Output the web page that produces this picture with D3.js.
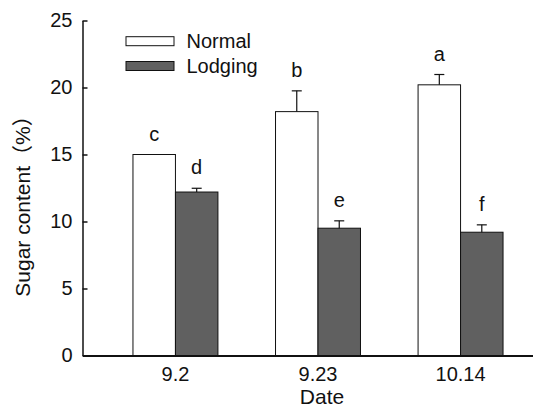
<!DOCTYPE html>
<html>
<head>
<meta charset="utf-8">
<script src="https://cdn.jsdelivr.net/npm/d3@7"></script>
<style>
  body { margin: 0; background: #fff; }
  svg { display: block; font-family: "Liberation Sans", Arial, "Noto Sans CJK SC", sans-serif; }
</style>
</head>
<body>
<div id="container"></div>
<script>
// Chart data
const dates = ["9.2", "9.23", "10.14"];
const seriesNames = ["Normal", "Lodging"];
const normalMeans = [15.0, 18.2, 20.2];
const normalErrors = [0, 1.55, 0.77];
const lodgingMeans = [12.2, 9.5, 9.2];
const lodgingErrors = [0.28, 0.55, 0.55];
const normalLetters = ["c", "b", "a"];
const lodgingLetters = ["d", "e", "f"];
const yTicks = [0, 5, 10, 15, 20, 25];

// Dimensions
const width = 533;
const height = 409;
const marginTop = 20.5;
const marginLeft = 82.5;
const marginBottom = 53.5;
const fills = ["#ffffff", "#606060"];

// Rows built from the arrays above
const rows = [];
dates.forEach((d, i) => {
  rows.push({ date: d, series: seriesNames[0], mean: normalMeans[i], err: normalErrors[i], letter: normalLetters[i] });
  rows.push({ date: d, series: seriesNames[1], mean: lodgingMeans[i], err: lodgingErrors[i], letter: lodgingLetters[i] });
});

// Scales
const x0 = d3.scaleBand()
    .domain(dates)
    .range([marginLeft, 553.5])
    .paddingInner(0.404)
    .paddingOuter(0.354);

const x1 = d3.scaleBand()
    .domain(seriesNames)
    .range([0, x0.bandwidth()]);

const y = d3.scaleLinear()
    .domain([0, 25])
    .range([height - marginBottom, marginTop]);

const color = d3.scaleOrdinal().domain(seriesNames).range(fills);

const svg = d3.select("#container")
    .append("svg")
    .attr("width", width)
    .attr("height", height);

// Bars
svg.append("g")
  .selectAll("rect")
  .data(rows)
  .join("rect")
    .attr("x", d => x0(d.date) + x1(d.series))
    .attr("y", d => y(d.mean))
    .attr("width", x1.bandwidth())
    .attr("height", d => y(0) - y(d.mean))
    .attr("fill", d => color(d.series))
    .attr("stroke", "#111")
    .attr("stroke-width", 1);

// Error bars (upper only)
const eb = svg.append("g")
    .attr("stroke", "#111")
    .attr("stroke-width", 1.2)
  .selectAll("g")
  .data(rows.filter(d => d.err > 0))
  .join("g")
    .attr("transform", d => `translate(${x0(d.date) + x1(d.series) + x1.bandwidth() / 2},0)`);

eb.append("line")
    .attr("y1", d => y(d.mean))
    .attr("y2", d => y(d.mean + d.err));

eb.append("line")
    .attr("x1", -5)
    .attr("x2", 5)
    .attr("y1", d => y(d.mean + d.err))
    .attr("y2", d => y(d.mean + d.err));

// Significance letters
svg.append("g")
  .selectAll("text")
  .data(rows)
  .join("text")
    .attr("x", d => x0(d.date) + x1(d.series) + x1.bandwidth() / 2)
    .attr("y", d => y(d.mean + d.err) - 14)
    .attr("text-anchor", "middle")
    .attr("font-size", 20)
    .attr("fill", "#111")
    .text(d => d.letter);

// Y axis, ticks pointing inward
const yAxis = svg.append("g")
    .attr("transform", `translate(${marginLeft},0)`)
    .call(d3.axisLeft(y).tickValues(yTicks).tickSizeInner(-5).tickSizeOuter(0).tickPadding(10));
yAxis.selectAll("text").attr("font-size", 20).attr("fill", "#111").attr("font-family", null);
yAxis.selectAll("line, path").attr("stroke", "#111").attr("stroke-width", 1.5);
yAxis.attr("font-family", null);

// X axis, no ticks
const xAxis = svg.append("g")
    .attr("transform", `translate(0,${y(0)})`)
    .call(d3.axisBottom(x0).tickSize(0).tickPadding(11));
xAxis.selectAll("text").attr("font-size", 20).attr("fill", "#111");
xAxis.select(".domain").attr("stroke", "#111").attr("stroke-width", 2);
xAxis.attr("font-family", null);

// Axis titles
svg.append("text")
    .attr("x", 322)
    .attr("y", 404)
    .attr("text-anchor", "middle")
    .attr("font-size", 21)
    .attr("fill", "#111")
    .text("Date");

svg.append("text")
    .attr("transform", "translate(30,201) rotate(-90)")
    .attr("text-anchor", "middle")
    .attr("font-size", 21)
    .attr("fill", "#111")
    .text("Sugar content（%）");

// Legend
const legend = svg.append("g")
  .selectAll("g")
  .data(seriesNames)
  .join("g")
    .attr("transform", (d, i) => `translate(126,${36.7 + i * 24.8})`);

legend.append("rect")
    .attr("width", 48)
    .attr("height", 9)
    .attr("fill", d => color(d))
    .attr("stroke", "#111")
    .attr("stroke-width", 1);

legend.append("text")
    .attr("x", 60.5)
    .attr("y", 4.5)
    .attr("dy", "0.35em")
    .attr("font-size", 20)
    .attr("fill", "#111")
    .text(d => d);
</script>
</body>
</html>
